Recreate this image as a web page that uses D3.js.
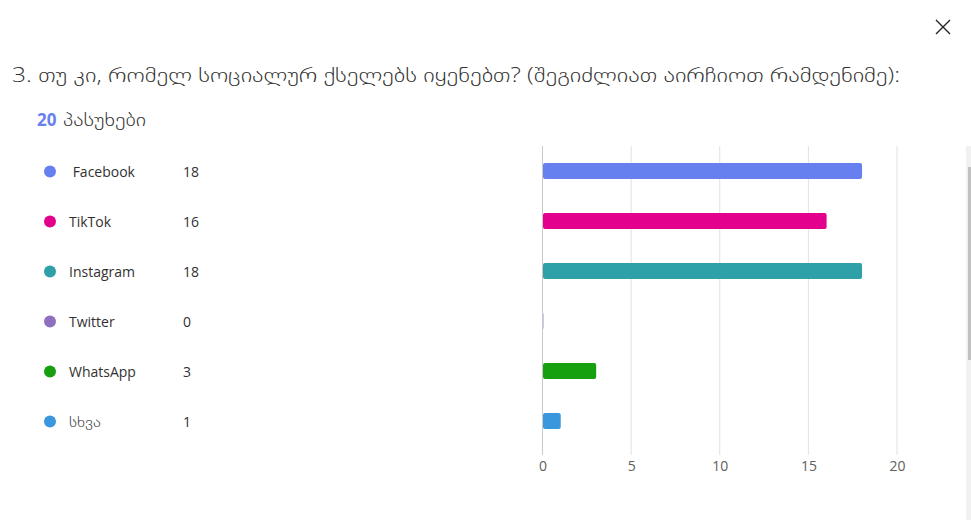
<!DOCTYPE html>
<html><head><meta charset="utf-8">
<script src="https://cdn.jsdelivr.net/npm/d3@7"></script>
<style>
html,body{margin:0;padding:0;background:#fff;overflow:hidden;}
svg{display:block;}
</style></head>
<body>
<svg id="c" width="971" height="520"></svg>
<script>
const title = "3. თუ კი, რომელ სოციალურ ქსელებს იყენებთ? (შეგიძლიათ აირჩიოთ რამდენიმე):";
const responseCount = "20";
const responseLabel = "პასუხები";
const categories = [" Facebook", "TikTok", "Instagram", "Twitter", "WhatsApp", "სხვა"];
const values = [18, 16, 18, 0, 3, 1];
const colors = ["#6680f0", "#e3008c", "#2da0a8", "#8f6fc0", "#16a010", "#3a96dd"];
const xTicks = [0, 5, 10, 15, 20];

const font = "'Segoe UI','Open Sans','DejaVu Sans',sans-serif";
const svg = d3.select("#c");

// close icon
const cx = 943, cy = 27;
svg.append("path").attr("d", `M${cx-7},${cy-7}L${cx+7},${cy+7}M${cx+7},${cy-7}L${cx-7},${cy+7}`)
  .attr("stroke", "#222").attr("stroke-width", 1.4).attr("fill", "none");

svg.append("text").attr("x", 12).attr("y", 82).text(title)
  .attr("textLength", 888).attr("lengthAdjust", "spacingAndGlyphs")
  .attr("font-family", font).attr("font-size", 20).attr("font-weight", 200).attr("fill", "#323130");

svg.append("text").attr("x", 37).attr("y", 126).text(responseCount)
  .attr("font-family", font).attr("font-size", 17).attr("font-weight", "bold").attr("fill", "#6680f0");
svg.append("text").attr("x", 63).attr("y", 126).text(responseLabel)
  .attr("textLength", 83).attr("lengthAdjust", "spacingAndGlyphs")
  .attr("font-family", font).attr("font-size", 17).attr("font-weight", 200).attr("fill", "#323130");

const y = d3.scaleBand().domain(categories).range([146, 446]).paddingInner(0.68).paddingOuter(0.34);
const x = d3.scaleLinear().domain([0, 20]).range([542.5, 897]);

// grid
svg.append("g").selectAll("line").data(xTicks).join("line")
  .attr("x1", d => x(d)).attr("x2", d => x(d)).attr("y1", 146).attr("y2", 455)
  .attr("stroke", d => d === 0 ? "#c8c8c8" : "#e1e1e1").attr("stroke-width", 1);

// axis labels
const ax = svg.append("g").attr("transform", "translate(0,455)")
  .call(d3.axisBottom(x).tickValues(xTicks).tickSize(0).tickPadding(6));
ax.select(".domain").remove();
ax.selectAll("text").attr("font-family", font).attr("font-size", 14).attr("fill", "#605e5c");

// bars
svg.append("g").selectAll("rect").data(categories).join("rect")
  .attr("x", x(0) + 0.5)
  .attr("y", d => y(d))
  .attr("height", y.bandwidth())
  .attr("width", (d, i) => Math.max(1, x(values[i]) - x(0)))
  .attr("rx", 2)
  .attr("fill", (d, i) => colors[i])
  .attr("opacity", (d, i) => values[i] === 0 ? 0.4 : 1);

// legend
const lg = svg.append("g").selectAll("g").data(categories).join("g")
  .attr("transform", d => `translate(0,${y(d) + y.bandwidth() / 2})`);
lg.append("circle").attr("cx", 50).attr("cy", 0.5).attr("r", 6).attr("fill", (d, i) => colors[i]);
lg.append("text").attr("x", 69).attr("y", 6).text(d => d)
  .style("white-space", "pre")
  .each(function(d) { if (d === "სხვა") d3.select(this).attr("textLength", 32).attr("lengthAdjust", "spacingAndGlyphs").attr("font-weight", 200); })
  .attr("font-family", font).attr("font-size", 14).attr("fill", "#323130");
lg.append("text").attr("x", 183).attr("y", 6).text((d, i) => values[i])
  .attr("font-family", font).attr("font-size", 14).attr("fill", "#323130");

// scrollbar
svg.append("rect").attr("x", 966).attr("y", 146).attr("width", 5).attr("height", 374).attr("fill", "#f1f1f1");
svg.append("rect").attr("x", 968).attr("y", 167).attr("width", 3).attr("height", 193).attr("fill", "#c1c1c1");
</script>
</body></html>
